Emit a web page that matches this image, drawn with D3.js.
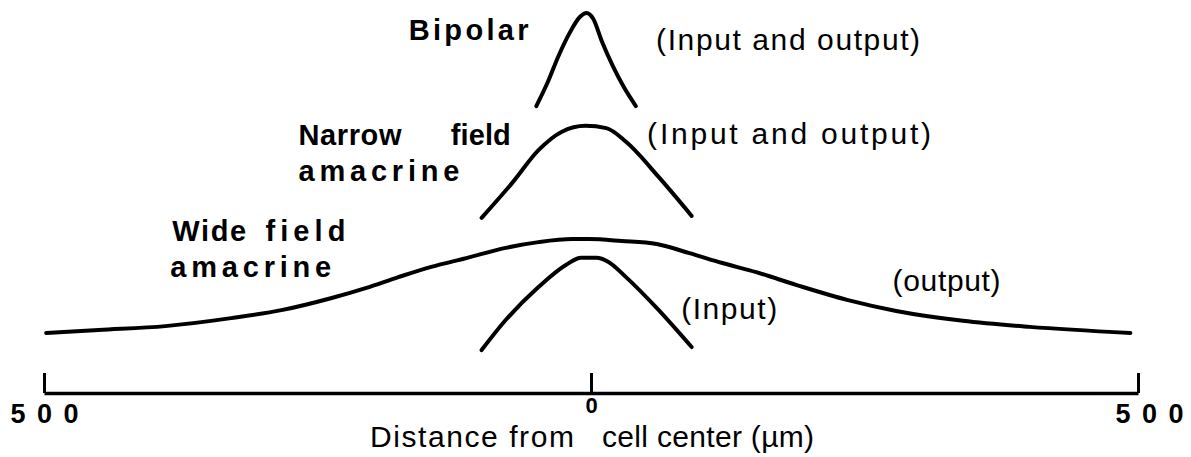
<!DOCTYPE html>
<html>
<head>
<meta charset="utf-8">
<script src="https://cdn.jsdelivr.net/npm/d3@7"></script>
<style>
  body { margin: 0; background: #fff; }
  svg text { font-family: "Liberation Sans", Arial, Helvetica, sans-serif; fill: #000; }
</style>
</head>
<body>
<div id="chart"></div>
<script>
// distance from cell center (µm), relative height (arbitrary units)
var bipolar = [[-50, 75.5], [-40, 81.5], [-30, 88.5], [-20, 94.5], [-10, 99], [-4, 100], [2, 98.5], [10, 92.5], [20, 86], [30, 80.5], [41, 75.5]];
var narrowField = [[-100, 46.1], [-72, 55.3], [-48, 63.9], [-27, 68.7], [-5, 70.3], [14, 69.7], [32, 66.1], [62, 56.8], [92, 46.6]];
var wideOutput = [[-498, 15.8], [-450, 16.6], [-389, 17.6], [-329, 19.7], [-283, 21.8], [-237, 25], [-206, 27.6], [-176, 30.5],
                  [-146, 33.2], [-114, 35.5], [-78, 38.2], [-48, 39.7], [-17, 40.5], [-2, 40.5], [28, 40], [60, 39.2],
                  [90, 36.8], [120, 34.2], [151, 31.8], [188, 28.4], [234, 24.5], [279, 21.6], [340, 19], [401, 17.4], [493, 15.8]];
var wideInput = [[-100, 11.3], [-78, 19.2], [-48, 27.9], [-23, 33.7], [-9, 35.6], [5, 35.6], [16, 34.5], [32, 30.5], [60, 22.4], [92, 12.1]];
var tickValues = [-500, 0, 500];
var tickLabels = ["500", "0", "500"];

var width = 1191, height = 457;

var svg = d3.select("#chart").append("svg")
    .attr("width", width)
    .attr("height", height);

var x = d3.scaleLinear().domain([-500, 500]).range([44, 1138]);
var y = d3.scaleLinear().domain([0, 100]).range([393, 13]);

// profiles
var line = d3.line()
    .x(function(d) { return x(d[0]); })
    .y(function(d) { return y(d[1]); })
    .curve(d3.curveMonotoneX);

svg.selectAll("path.profile")
    .data([bipolar, narrowField, wideOutput, wideInput])
    .enter().append("path")
    .attr("class", "profile")
    .attr("d", line)
    .attr("fill", "none")
    .attr("stroke", "#000")
    .attr("stroke-width", 4)
    .attr("stroke-linecap", "round")
    .attr("stroke-linejoin", "round");

// axis: ticks point up, labels below
var xAxisCall = d3.axisBottom(x)
    .tickValues(tickValues)
    .tickSizeInner(-20)
    .tickSizeOuter(0)
    .tickPadding(13)
    .tickFormat(function(d, i) { return tickLabels[i]; });

var xAxis = svg.append("g")
    .attr("transform", "translate(0,393)")
    .call(xAxisCall);

xAxis.attr("font-size", null).attr("font-family", null);
xAxis.select(".domain").attr("stroke", "#000").attr("stroke-width", 3.5);
xAxis.selectAll(".tick line").attr("stroke", "#000").attr("stroke-width", 3);
xAxis.selectAll(".tick text")
    .style("font-weight", "bold")
    .style("font-size", function(d) { return d === 0 ? "22px" : "27px"; })
    .attr("fill", "#000")
    .attr("y", function(d) { return d === 0 ? 4 : 11; })
    .attr("textLength", function(d) { return d === 0 ? null : 68; })
    .attr("lengthAdjust", "spacing")
    .attr("dx", function(d) { return d === 500 ? 11 : 0; });

// annotations (x in µm, y in profile units)
var notes = [
    {t: "Bipolar", x: -166.7, y: 92.9, len: 120, bold: true},
    {t: "(Input and output)", x: 59.5, y: 90.3, len: 264},
    {t: "Narrow", x: -267.4, y: 65.3, len: 103, bold: true},
    {t: "field", x: -128.2, y: 65.3, len: 60, bold: true},
    {t: "amacrine", x: -267.4, y: 55.8, len: 161, bold: true},
    {t: "(Input and output)", x: 51.3, y: 65.5, len: 284},
    {t: "Wide", x: -382.8, y: 40, len: 74, bold: true},
    {t: "field", x: -297.6, y: 40, len: 80, bold: true},
    {t: "amacrine", x: -384.6, y: 30.5, len: 161, bold: true},
    {t: "(output)", x: 275.7, y: 26.8, len: 108},
    {t: "(Input)", x: 82.4, y: 19.5, len: 96},
    {t: "Distance from", x: -15.6, y: -14.2, len: 204, anchor: "end"},
    {t: "cell center (\u00b5m)", x: 10.1, y: -14.2, len: 212}
];

svg.selectAll("text.note")
    .data(notes)
    .enter().append("text")
    .attr("class", "note")
    .attr("x", function(d) { return x(d.x); })
    .attr("y", function(d) { return y(d.y); })
    .attr("text-anchor", function(d) { return d.anchor || "start"; })
    .style("font-size", function(d) { return d.bold ? "29px" : "30px"; })
    .style("font-weight", function(d) { return d.bold ? "bold" : "normal"; })
    .attr("textLength", function(d) { return d.len; })
    .attr("lengthAdjust", "spacing")
    .text(function(d) { return d.t; });
</script>
</body>
</html>
